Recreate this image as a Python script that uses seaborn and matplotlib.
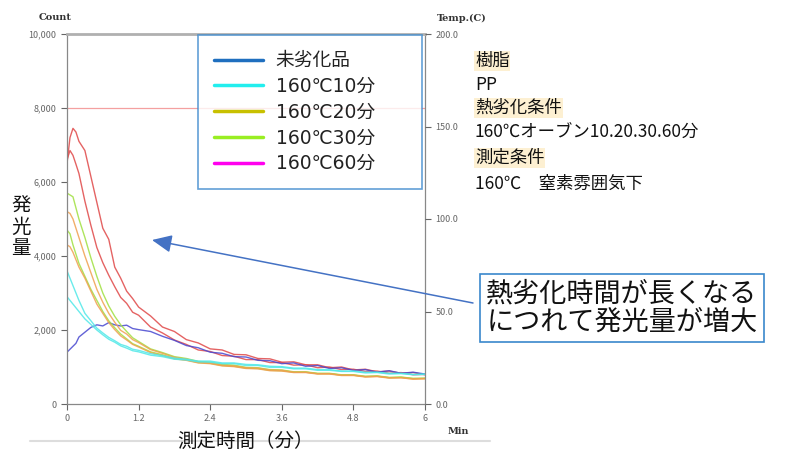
import pandas as pd
import numpy as np
import seaborn as sns
import matplotlib.pyplot as plt
from matplotlib.lines import Line2D

# time axis (min)
t = [0, 0.05, 0.1, 0.15, 0.2, 0.3, 0.4, 0.5, 0.6, 0.7, 0.8, 0.9, 1.0, 1.1, 1.2,
     1.4, 1.6, 1.8, 2.0, 2.2, 2.4, 2.6, 2.8, 3.0, 3.2, 3.4, 3.6, 3.8, 4.0, 4.2,
     4.4, 4.6, 4.8, 5.0, 5.2, 5.4, 5.6, 5.8, 6.0]

# emission counts
red_a = [6500, 7200, 7450, 7350, 7100, 6850, 6150, 5450, 4750, 4450, 3700, 3400, 3050, 2850, 2620,
         2380, 2080, 1960, 1740, 1650, 1490, 1460, 1340, 1330, 1230, 1220, 1130, 1140, 1060, 1060,
         980, 1000, 920, 940, 870, 890, 830, 850, 790]
red_b = [6600, 6850, 6720, 6480, 6230, 5480, 4830, 4230, 3820, 3480, 3170, 2880, 2720, 2480, 2400,
         2080, 1920, 1730, 1610, 1460, 1420, 1310, 1290, 1200, 1200, 1120, 1120, 1050, 1060, 980,
         1000, 930, 940, 880, 890, 830, 850, 790, 800]
blue = [1400, 1480, 1560, 1640, 1810, 1940, 2070, 2140, 2110, 2200, 2140, 2110, 2130, 2040, 2010,
        1960, 1830, 1720, 1580, 1520, 1400, 1370, 1280, 1270, 1180, 1170, 1090, 1110, 1020, 1040,
        960, 980, 910, 930, 860, 900, 830, 860, 810]
green_a = [5700, 5650, 5600, 5300, 5000, 4500, 3950, 3450, 3000, 2650, 2370, 2140, 1960, 1790, 1690,
           1490, 1390, 1280, 1230, 1150, 1130, 1070, 1050, 990, 980, 930, 920, 870, 870, 830,
           830, 790, 790, 750, 760, 720, 730, 690, 700]
green_b = [4700, 4600, 4300, 4050, 3800, 3450, 3100, 2800, 2500, 2250, 2060, 1890, 1760, 1630, 1560,
           1410, 1330, 1230, 1190, 1120, 1100, 1040, 1020, 970, 960, 910, 900, 860, 860, 820,
           820, 780, 780, 740, 750, 710, 720, 690, 690]
orange_a = [5200, 5150, 5000, 4750, 4500, 4000, 3550, 3100, 2750, 2450, 2210, 1990, 1890, 1740, 1660,
            1470, 1370, 1260, 1210, 1140, 1110, 1050, 1030, 980, 970, 920, 910, 860, 860, 820,
            820, 780, 780, 740, 750, 710, 710, 680, 690]
orange_b = [4300, 4250, 4100, 3900, 3700, 3400, 3050, 2700, 2450, 2200, 2010, 1840, 1730, 1610, 1540,
            1390, 1310, 1220, 1180, 1110, 1090, 1030, 1010, 960, 950, 900, 890, 850, 850, 810,
            810, 770, 770, 730, 740, 700, 710, 670, 680]
cyan_a = [3600, 3400, 3200, 3000, 2800, 2450, 2250, 2050, 1920, 1800, 1710, 1610, 1560, 1480, 1450,
          1360, 1310, 1240, 1210, 1160, 1160, 1110, 1110, 1070, 1060, 1020, 1010, 970, 970, 930,
          930, 890, 890, 860, 860, 830, 830, 800, 810]
cyan_b = [2900, 2800, 2700, 2600, 2500, 2300, 2150, 2000, 1870, 1750, 1670, 1570, 1510, 1440, 1410,
          1320, 1280, 1210, 1190, 1140, 1130, 1090, 1090, 1040, 1040, 990, 990, 950, 950, 910,
          910, 880, 880, 840, 850, 810, 820, 790, 800]

series = {
    "red_a": red_a, "red_b": red_b, "blue": blue,
    "green_a": green_a, "green_b": green_b,
    "orange_a": orange_a, "orange_b": orange_b,
    "cyan_a": cyan_a, "cyan_b": cyan_b,
}
line_colors = {
    "red_a": "#e04848", "red_b": "#e04848", "blue": "#4848d0",
    "green_a": "#a0e040", "green_b": "#a0e040",
    "orange_a": "#f0a050", "orange_b": "#f0a050",
    "cyan_a": "#50e8e8", "cyan_b": "#50e8e8",
}

legend_labels = ["未劣化品", "160℃10分", "160℃20分", "160℃30分", "160℃60分"]
legend_colors = ["#1f6fbf", "#22eeee", "#c8c000", "#99ee22", "#ff00ee"]

df = pd.concat(
    [pd.DataFrame({"t": t, "count": v, "curve": k}) for k, v in series.items()],
    ignore_index=True,
)

sns.set_theme(style="white")
plt.rcParams['font.family'] = ['Noto Sans CJK JP', 'DejaVu Sans']

W, H = 786, 457
fig = plt.figure(figsize=(W / 100, H / 100), dpi=100)
ax = fig.add_axes([67 / W, 1 - 404 / H, 358 / W, 370 / H])

sns.lineplot(data=df, x="t", y="count", hue="curve", palette=line_colors,
             legend=False, linewidth=1.0, alpha=0.85, ax=ax)
ax.axhline(8000, color="#f4a0a0", linewidth=0.9)

ax.set_xlim(0, 6)
ax.set_ylim(0, 10000)
ax.set_xticks([0, 1.2, 2.4, 3.6, 4.8, 6])
ax.set_xticklabels(["0", "1.2", "2.4", "3.6", "4.8", "6"])
ax.set_yticks([0, 2000, 4000, 6000, 8000, 10000])
ax.set_yticklabels(["0", "2,000", "4,000", "6,000", "8,000", "10,000"])
ax.set_xlabel("")
ax.set_ylabel("")
ax.tick_params(axis="both", labelsize=6.5, colors="#666666", length=4, width=0.8,
               direction="out", bottom=True, left=True)
for s in ["left", "bottom", "right"]:
    ax.spines[s].set_color("#888888")
    ax.spines[s].set_linewidth(0.9)
ax.spines["top"].set_color("#b0b0b0")
ax.spines["top"].set_linewidth(2)

ax2 = ax.twinx()
ax2.set_ylim(0, 200)
ax2.set_yticks([0, 50, 100, 150, 200])
ax2.set_yticklabels(["0.0", "50.0", "100.0", "150.0", "200.0"])
ax2.tick_params(axis="y", labelsize=6.5, colors="#666666", length=4, width=0.8,
                direction="out", right=True)
for s in ax2.spines.values():
    s.set_visible(False)
ax2.grid(False)

# legend with its own colours, stretched to the boxed width
handles = [Line2D([0], [0], color=c, linewidth=2.5) for c in legend_colors]
leg = ax.legend(handles, legend_labels, loc="upper left", mode="expand",
                bbox_to_anchor=((198 - 67) / 358, (404 - 39) / 370, 224 / 358, 0.01),
                prop={"family": ["DejaVu Sans", "Noto Sans CJK JP"], "size": 13.5},
                frameon=True, fancybox=False, handlelength=2.6,
                handletextpad=0.7, labelspacing=0.36, borderpad=0.85,
                borderaxespad=0)
leg.get_frame().set_edgecolor("#3a88cc")
leg.get_frame().set_linewidth(1.2)
for txt in leg.get_texts():
    txt.set_color("#222222")

# axis titles
fig.text(55 / W, 1 - 18 / H, "Count", family="DejaVu Serif", fontsize=7,
         fontweight="bold", ha="center", va="center", color="#333333")
fig.text(462 / W, 1 - 18 / H, "Temp.(C)", family="DejaVu Serif", fontsize=7,
         fontweight="bold", ha="center", va="center", color="#333333")
fig.text(458 / W, 1 - 432 / H, "Min", family="DejaVu Serif", fontsize=7,
         fontweight="bold", ha="center", va="center", color="#333333")
fig.text(21 / W, 1 - 227 / H, "発\n光\n量", fontsize=14, ha="center",
         va="center", linespacing=1.0, color="#111111")
fig.text(245 / W, 1 - 441 / H, "測定時間（分）", fontsize=14, ha="center",
         va="center", color="#111111")

# condition notes on the right
notes = [("樹脂", True), ("PP", False), ("熱劣化条件", True),
         ("160℃オーブン10.20.30.60分", False), ("測定条件", True),
         ("160℃　窒素雰囲気下", False)]
ys = [61, 85, 108, 133, 158, 184]
for (txt, hl), yp in zip(notes, ys):
    kw = dict(fontsize=12.5, ha="left", va="center", color="#111111")
    if hl:
        kw["bbox"] = dict(facecolor="#fdf0d2", edgecolor="none", pad=0.5)
    fig.text(475 / W, 1 - yp / H, txt, **kw)

# annotation box with arrow (figure pixels count from the bottom)
ax.annotate("", xy=(152, H - 240), xycoords="figure pixels",
            xytext=(473, H - 303), textcoords="figure pixels",
            arrowprops=dict(arrowstyle="-|>,head_length=1.0,head_width=0.45",
                            color="#4472c4", linewidth=1.1, shrinkA=0, shrinkB=0),
            annotation_clip=False)
fig.text(622 / W, 1 - 308 / H, "熱劣化時間が長くなる\nにつれて発光量が増大",
         fontsize=19.5, ha="center", va="center", linespacing=1.05, color="#111111",
         bbox=dict(facecolor="white", edgecolor="#3a88cc", linewidth=1.2,
                   boxstyle="square,pad=0.25"))

# faint baseline under the chart
fig.add_artist(Line2D([30 / W, 490 / W], [1 - 441 / H, 1 - 441 / H],
                      color="#dddddd", linewidth=1.5))

fig.savefig("out.png", dpi=100)
